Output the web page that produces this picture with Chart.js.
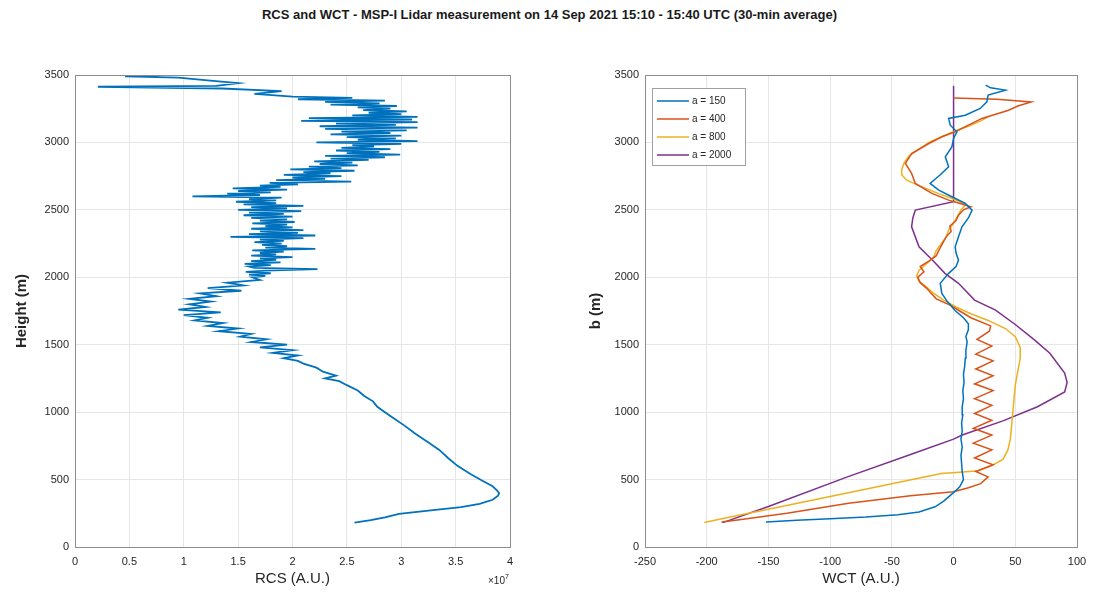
<!DOCTYPE html>
<html>
<head>
<meta charset="utf-8">
<script src="https://cdn.jsdelivr.net/npm/chart.js@4/dist/chart.umd.min.js"></script>
<style>
  body { margin: 0; background: #fff; width: 1099px; height: 598px; overflow: hidden; position: relative; font-family: "Liberation Sans", Arial, sans-serif; }
  #title { position: absolute; top: 7px; left: 0; width: 1099px; text-align: center; font-size: 13px; font-weight: bold; line-height: 16px; color: #1a1a1a; }
  #wrap-rcs { position: absolute; left: 0; top: 0; width: 560px; height: 598px; }
  #wrap-wct { position: absolute; left: 560px; top: 0; width: 539px; height: 598px; }
</style>
</head>
<body>
<div id="title">RCS and WCT - MSP-I Lidar measurement on 14 Sep 2021 15:10 - 15:40 UTC (30-min average)</div>
<div id="wrap-rcs"><canvas id="chart-rcs"></canvas></div>
<div id="wrap-wct"><canvas id="chart-wct"></canvas></div>
<script>
// RCS profile (x10^7 A.U.) vs height (m)
const rcsHeight = [180, 200, 220, 245, 270, 295, 320, 350, 380, 400, 420, 450, 490, 540, 600, 660, 720, 780, 840, 900, 960, 1000, 1040, 1080, 1120, 1160, 1200, 1230, 1250, 1270, 1300, 1330, 1360, 1380,
  1400, 1420, 1440, 1460, 1480, 1500, 1520, 1540, 1560, 1580, 1600, 1620, 1640, 1660, 1680, 1700, 1720, 1740, 1760, 1780,
  1800, 1820, 1840, 1860, 1880, 1900, 1920, 1940, 1960, 1980,
  2000, 2010, 2020, 2030, 2040, 2050, 2060, 2070, 2080, 2090, 2100, 2110, 2120, 2130, 2140, 2150, 2160, 2170, 2180, 2190,
  2200, 2210, 2220, 2230, 2240, 2250, 2260, 2270, 2280, 2290, 2300, 2310, 2320, 2330, 2340, 2350, 2360, 2370, 2380, 2390,
  2400, 2410, 2420, 2430, 2440, 2450, 2460, 2470, 2480, 2490, 2500, 2510, 2520, 2530, 2540, 2550, 2560, 2570, 2580, 2590,
  2600, 2610, 2620, 2630, 2640, 2650, 2660, 2670, 2680, 2690, 2700, 2710, 2720, 2730, 2740, 2750, 2760, 2770, 2780, 2790,
  2800, 2810, 2820, 2830, 2840, 2850, 2860, 2870, 2880, 2890, 2900, 2910, 2920, 2930, 2940, 2950, 2960, 2970, 2980, 2990,
  3000, 3010, 3020, 3030, 3040, 3050, 3060, 3070, 3080, 3090, 3100, 3110, 3120, 3130, 3140, 3150, 3160, 3170, 3180, 3190,
  3200, 3210, 3220, 3230, 3240, 3250, 3260, 3270, 3280, 3290, 3300, 3310, 3320, 3330, 3340,
  3360, 3380, 3400, 3413, 3420, 3440, 3460, 3480, 3490, 3500];
const rcsValue = [2.57, 2.72, 2.85, 2.98, 3.25, 3.55, 3.72, 3.84, 3.89, 3.90, 3.88, 3.84, 3.75, 3.64, 3.52, 3.43, 3.35, 3.24, 3.13, 3.03, 2.92, 2.85, 2.78, 2.74, 2.66, 2.60, 2.50, 2.43, 2.30, 2.40, 2.28, 2.22, 2.10, 2.05,
  1.92, 2.05, 1.82, 2.00, 1.70, 1.95, 1.62, 1.76, 1.52, 1.62, 1.32, 1.50, 1.22, 1.36, 1.10, 1.22, 1.00, 1.34, 0.95, 1.20,
  1.05, 1.25, 1.05, 1.30, 1.15, 1.53, 1.22, 1.55, 1.40, 1.70,
  1.63, 1.75, 1.60, 1.80, 1.57, 1.75, 2.23, 1.65, 1.60, 1.80, 1.56, 1.89, 1.62, 1.85, 1.70, 2.00, 1.62, 1.85, 1.70, 1.92,
  1.63, 2.21, 1.75, 1.95, 1.72, 1.90, 1.65, 1.92, 1.70, 2.10, 1.43, 2.21, 1.60, 2.05, 1.70, 2.10, 1.62, 2.00, 1.75, 1.95,
  1.63, 2.02, 1.70, 1.95, 1.62, 2.00, 1.55, 1.92, 1.60, 2.08, 1.50, 1.95, 1.62, 2.10, 1.55, 1.85, 1.48, 1.85, 1.60, 1.90,
  1.08, 1.70, 1.40, 1.80, 1.50, 1.95, 1.45, 1.89, 1.70, 2.05, 1.79, 2.54, 1.85, 2.30, 2.00, 2.45, 1.92, 2.35, 2.10, 2.57,
  1.98, 2.45, 2.15, 2.60, 2.25, 2.55, 2.20, 2.70, 2.35, 2.85, 2.30, 2.99, 2.50, 2.80, 2.40, 2.90, 2.45, 2.75, 2.55, 3.00,
  2.22, 3.15, 2.60, 2.95, 2.50, 3.00, 2.35, 2.90, 2.45, 3.05, 2.30, 3.15, 2.25, 2.95, 2.40, 3.15, 2.08, 3.10, 2.15, 3.15,
  2.55, 3.00, 2.70, 3.05, 2.65, 2.90, 2.60, 2.96, 2.35, 2.80, 2.30, 2.85, 2.05, 2.55, 2.00,
  1.65, 1.90, 1.35, 0.21, 1.30, 1.50, 1.22, 0.95, 0.46, 0.80];

// WCT profiles for each dilation a
const wctLabels = ['a = 150', 'a = 400', 'a = 800', 'a = 2000'];
const wct150Height = [186, 198, 210, 223, 240, 260, 298, 340, 372, 420, 446, 500, 560, 620, 680, 740, 800, 860, 920, 980, 1040, 1100, 1160, 1220, 1280, 1340, 1400, 1460, 1520, 1560, 1612, 1655, 1700, 1756, 1820, 1880, 1955, 2029, 2080, 2127, 2180, 2226, 2300, 2374, 2440, 2498, 2548, 2597, 2646, 2696, 2758, 2819, 2893, 2967, 3030, 3079, 3128, 3178, 3202, 3252, 3301, 3351, 3388, 3405, 3425];
const wct150Value = [-152, -127, -100, -71, -45, -28, -15, -8, -4, 2, 5, 8, 7, 6.5, 6, 7, 6, 7, 6.5, 7.5, 7, 8, 7.5, 8.5, 8, 9, 9.5, 10, 11, 10, 12, 12, 8, 1, -5, -9.5, -10.8, -4, 2, 4, 2, 1.3, 4, 6.8, 12, 15, 9.5, -1.4, -12, -19, -11, -4, -6.7, -1.4, 0, 2.7, -2.7, -4, 9.5, 21.6, 27, 28, 42, 30, 26];
const wct400Height = [185, 200, 250, 325, 380, 410, 440, 470, 520, 560, 610, 660, 720, 770, 830, 880, 940, 990, 1050, 1100, 1160, 1210, 1270, 1320, 1380, 1430, 1490, 1540, 1600, 1640, 1700, 1750, 1790, 1840, 1880, 1920, 1960, 2000, 2040, 2080, 2120, 2160, 2200, 2250, 2300, 2340, 2380, 2420, 2460, 2500, 2523, 2545, 2572, 2622, 2696, 2770, 2844, 2918, 2992, 3042, 3079, 3128, 3178, 3239, 3270, 3300, 3320, 3330];
const wct400Value = [-188, -175, -135, -85, -35, 0, 12, 22, 28, 18, 32, 17, 31, 16, 31, 16, 31, 17, 31, 17, 32, 17, 32, 18, 32, 18, 31, 19, 29, 30, 14, 5, -2, -14, -18, -22, -27, -29, -24, -27, -20, -14, -12, -9, -6, -2, -3, 2, 4, 8, 14, 6, -4, -17.6, -31, -34, -39, -34, -20, -9.5, 1.3, 12, 23, 44.6, 52, 63, 35, 0];
const wct800Height = [182, 220, 280, 375, 469, 545, 555, 565, 600, 650, 720, 800, 900, 1000, 1100, 1200, 1300, 1400, 1480, 1560, 1620, 1680, 1730, 1780, 1830, 1880, 1930, 1970, 2010, 2050, 2100, 2150, 2200, 2250, 2300, 2350, 2400, 2450, 2500, 2540, 2580, 2620, 2680, 2720, 2760, 2800, 2850, 2900, 2950, 3000, 3040, 3080, 3120, 3160, 3190];
const wct800Value = [-202, -182, -150, -100, -50, -10, 5, 20, 30, 40, 44, 46, 47, 48, 49, 50, 52, 54, 54, 50, 42, 28, 14, 2, -8, -16, -22, -28, -30, -28, -22, -16, -14, -10, -6, -4, 0, 3, 6, 10, 0, -12, -28, -38, -42, -42, -40, -36, -28, -20, -10, 0, 12, 22, 28];
const wct2000Height = [181, 300, 520, 695, 800, 830, 935, 1040, 1150, 1220, 1290, 1437, 1540, 1650, 1757, 1831, 1955, 2029, 2127, 2226, 2374, 2440, 2498, 2560, 3420];
const wct2000Value = [-187, -150, -86, -32, 0, 7, 40, 68, 90, 92, 90, 78, 65, 50, 34, 17, 4, -7, -17, -28, -34, -33, -31, 0, 0];

const heightTicks = [0, 500, 1000, 1500, 2000, 2500, 3000, 3500];
const lineColors = ['#0072BD', '#D95319', '#EDB120', '#7E2F8E'];

const textColor = '#262626';
const gridColor = '#e6e6e6';
const axisColor = '#8c8c8c';
const fontFamily = '"Liberation Sans", Arial, sans-serif';

function toPoints(xs, ys) {
    return xs.map((v, i) => ({ x: v, y: ys[i] }));
}

// draw the full box round the axes like MATLAB
const boxPlugin = {
    id: 'box',
    afterDraw(chart) {
        const a = chart.chartArea;
        const ctx = chart.ctx;
        ctx.save();
        ctx.strokeStyle = axisColor;
        ctx.lineWidth = 1;
        ctx.strokeRect(a.left + 0.5, a.top + 0.5, a.right - a.left, a.bottom - a.top);
        ctx.restore();
    }
};

const exponentPlugin = {
    id: 'exponent',
    afterDraw(chart) {
        const a = chart.chartArea;
        const ctx = chart.ctx;
        ctx.save();
        ctx.fillStyle = textColor;
        ctx.font = '10px ' + fontFamily;
        ctx.textBaseline = 'alphabetic';
        ctx.fillText('\u00d710', a.right - 22, a.bottom + 37);
        ctx.font = '7px ' + fontFamily;
        ctx.fillText('7', a.right - 5, a.bottom + 32);
        ctx.restore();
    }
};

const insideLegend = {
    id: 'insideLegend',
    afterDraw(chart) {
        const a = chart.chartArea;
        const ctx = chart.ctx;
        const x0 = a.left + 7, y0 = a.top + 13, w = 93, h = 77;
        ctx.save();
        ctx.fillStyle = '#fff';
        ctx.fillRect(x0, y0, w, h);
        ctx.strokeStyle = '#a0a0a0';
        ctx.lineWidth = 1;
        ctx.strokeRect(x0 + 0.5, y0 + 0.5, w, h);
        ctx.font = '10px ' + fontFamily;
        ctx.textBaseline = 'middle';
        chart.data.datasets.forEach((ds, i) => {
            const yy = y0 + 13 + i * 18;
            ctx.strokeStyle = ds.borderColor;
            ctx.lineWidth = 1.5;
            ctx.beginPath();
            ctx.moveTo(x0 + 5, yy);
            ctx.lineTo(x0 + 37, yy);
            ctx.stroke();
            ctx.fillStyle = textColor;
            ctx.fillText(ds.label, x0 + 40, yy);
        });
        ctx.restore();
    }
};

function axisOptions(min, max, step, title, fixedSize, titlePad, isY) {
    return {
        type: 'linear',
        min: min,
        max: max,
        afterFit(scale) {
            if (isY) scale.width = fixedSize; else scale.height = fixedSize;
        },
        afterBuildTicks(scale) {
            if (isY) scale.ticks = heightTicks.map(v => ({ value: v }));
        },
        ticks: {
            stepSize: step,
            color: textColor,
            padding: isY ? 6 : 8,
            maxRotation: 0,
            autoSkip: false,
            font: { size: 11, family: fontFamily },
            callback: v => String(v)
        },
        grid: {
            color: gridColor,
            drawTicks: false
        },
        border: { color: axisColor },
        title: {
            display: true,
            text: title,
            color: textColor,
            padding: titlePad,
            font: { size: 15, weight: isY ? 'bold' : 'normal', family: fontFamily }
        }
    };
}

const baseOptions = {
    responsive: true,
    maintainAspectRatio: false,
    animation: false,
    plugins: {
        legend: { display: false },
        tooltip: { enabled: false }
    }
};

new Chart(document.getElementById('chart-rcs'), {
    type: 'scatter',
    data: {
        datasets: [{
            label: 'RCS',
            data: toPoints(rcsValue, rcsHeight),
            showLine: true,
            borderColor: lineColors[0],
            borderWidth: 1.8,
            pointRadius: 0
        }]
    },
    options: {
        ...baseOptions,
        layout: { padding: { left: 0, right: 50, top: 75, bottom: 0 } },
        scales: {
            x: axisOptions(0, 4, 0.5, 'RCS (A.U.)', 51, { top: 0, bottom: 10 }, false),
            y: axisOptions(0, 3500, 500, 'Height (m)', 75, { top: 13, bottom: 0 }, true)
        }
    },
    plugins: [boxPlugin, exponentPlugin]
});

const wctSeries = [
    [wct150Value, wct150Height],
    [wct400Value, wct400Height],
    [wct800Value, wct800Height],
    [wct2000Value, wct2000Height]
];

new Chart(document.getElementById('chart-wct'), {
    type: 'scatter',
    data: {
        datasets: wctSeries.map((s, i) => ({
            label: wctLabels[i],
            data: toPoints(s[0], s[1]),
            showLine: true,
            borderColor: lineColors[i],
            borderWidth: 1.5,
            pointRadius: 0
        }))
    },
    options: {
        ...baseOptions,
        layout: { padding: { left: 0, right: 22, top: 75, bottom: 0 } },
        scales: {
            x: axisOptions(-250, 100, 50, 'WCT (A.U.)', 51, { top: 0, bottom: 10 }, false),
            y: axisOptions(0, 3500, 500, 'b (m)', 85, { top: 27, bottom: 0 }, true)
        }
    },
    plugins: [boxPlugin, insideLegend]
});
</script>
</body>
</html>
